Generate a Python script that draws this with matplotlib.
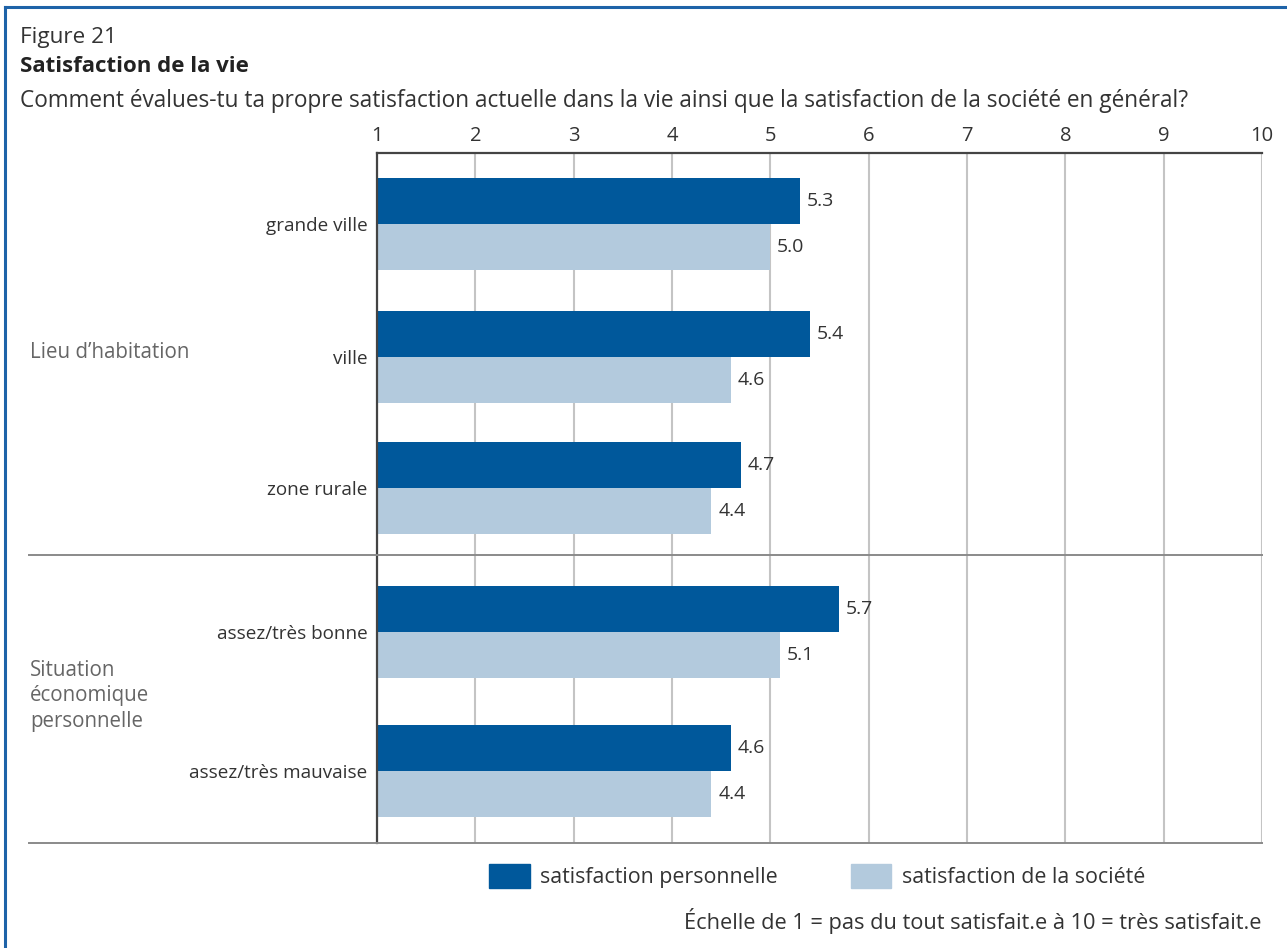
import matplotlib.pyplot as plt
from matplotlib.lines import Line2D

plt.rcParams["font.family"] = ["Open Sans", "DejaVu Sans"]

categories = ["grande ville", "ville", "zone rurale", "assez/très bonne", "assez/très mauvaise"]
personnelle = [5.3, 5.4, 4.7, 5.7, 4.6]
societe = [5.0, 4.6, 4.4, 5.1, 4.4]
groups = ["Lieu d\u2019habitation", "Situation\néconomique\npersonnelle"]
ticks = list(range(1, 11))

DARK = "#00589b"
LIGHT = "#b3cadd"
TXT = "#333333"

W, H = 1287, 948
fig = plt.figure(figsize=(W / 100, H / 100), dpi=100)
ax = fig.add_axes([377 / W, 1 - 843 / H, (1262 - 377) / W, (843 - 153) / H])

pos = [0, 1, 1.98, 3.06, 4.1]
h = 0.345
ax.barh([p - h for p in pos], personnelle, height=h, align="edge", color=DARK, zorder=3)
ax.barh(pos, societe, height=h, align="edge", color=LIGHT, zorder=3)

for p, a, b in zip(pos, personnelle, societe):
    ax.text(a + 0.07, p - h / 2, f"{a:.1f}", va="center", ha="left", fontsize=14, color=TXT)
    ax.text(b + 0.07, p + h / 2, f"{b:.1f}", va="center", ha="left", fontsize=14, color=TXT)

ax.set_xlim(1, 10)
ax.set_ylim(4.64, -0.532)
ax.set_xticks(ticks)
ax.xaxis.tick_top()
ax.tick_params(axis="x", length=0, pad=5, labelsize=14.5, labelcolor=TXT)
ax.set_yticks(pos)
ax.set_yticklabels(categories)
ax.tick_params(axis="y", length=0, pad=7, labelsize=13.6, labelcolor=TXT)
ax.grid(axis="x", color="#c4c4c4", linewidth=1.5, zorder=0)
for s in ["right", "bottom"]:
    ax.spines[s].set_visible(False)
for s in ["top", "left"]:
    ax.spines[s].set_color("#444444")
    ax.spines[s].set_linewidth(1.6)
ax.spines["left"].set_zorder(4)

# group separators
for yp in [555, 843]:
    fig.add_artist(Line2D([29 / W, 1262 / W], [1 - yp / H] * 2, color="#8a8a8a", linewidth=1.4))

fig.text(30 / W, 1 - 352 / H, groups[0], ha="left", va="center", fontsize=14.8, color="#666666")
fig.text(30 / W, 1 - 696 / H, groups[1], ha="left", va="center", fontsize=14.8, color="#666666",
         linespacing=1.3)

# titles
fig.text(20 / W, 1 - 38 / H, "Figure 21", ha="left", va="center", fontsize=16.2, color=TXT)
fig.text(20 / W, 1 - 66 / H, "Satisfaction de la vie", ha="left", va="center", fontsize=16,
         fontweight="bold", color="#222222")
fig.text(20 / W, 1 - 101 / H,
         "Comment évalues-tu ta propre satisfaction actuelle dans la vie ainsi que la satisfaction de la société en général?",
         ha="left", va="center", fontsize=16.3, color=TXT)

# legend
handles = [plt.Rectangle((0, 0), 1, 1, color=DARK), plt.Rectangle((0, 0), 1, 1, color=LIGHT)]
fig.legend(handles, ["satisfaction personnelle", "satisfaction de la société"], ncol=2,
           loc="center", bbox_to_anchor=(817 / W, 1 - 876 / H), frameon=False,
           fontsize=15.4, handlelength=1.9, handleheight=1.4, handletextpad=0.5,
           columnspacing=3.4, labelcolor=TXT)

fig.text(1262 / W, 1 - 921 / H, "Échelle de 1 = pas du tout satisfait.e à 10 = très satisfait.e",
         ha="right", va="center", fontsize=15.7, color=TXT)

# frame
fig.add_artist(Line2D([5 / W, 5 / W], [0, 1 - 7 / H], color="#1e63a8", linewidth=2.2))
fig.add_artist(Line2D([5 / W, 1], [1 - 7 / H] * 2, color="#1e63a8", linewidth=2.2))

fig.savefig("out.png", dpi=100)
